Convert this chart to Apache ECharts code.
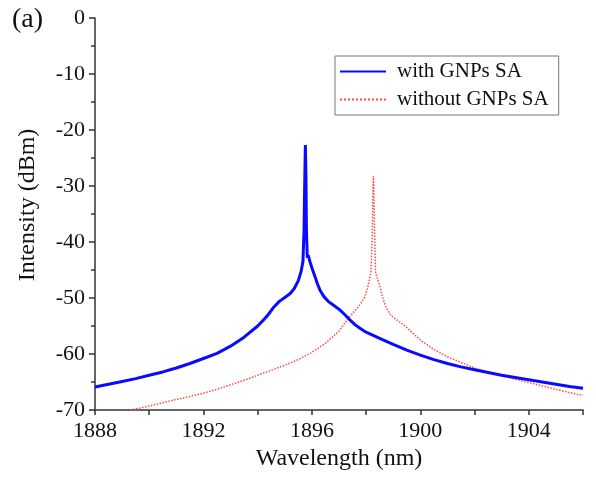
<!DOCTYPE html>
<html>
<head>
<meta charset="utf-8">
<script src="https://cdn.jsdelivr.net/npm/echarts@6/dist/echarts.min.js"></script>
<style>html,body{margin:0;padding:0;background:#fff}#c{width:596px;height:478px}</style>
</head>
<body>
<div id="c"></div>
<script>
const xTickLabels = ['1888','1892','1896','1900','1904'];
const yTickLabels = ['0','-10','-20','-30','-40','-50','-60','-70'];

const withWl = [1888.0,1888.5,1889.0,1889.5,1890.0,1890.5,1891.0,1891.5,1892.0,1892.5,1893.0,1893.5,1894.0,1894.2,1894.4,1894.6,1894.8,1895.0,1895.2,1895.35,1895.5,1895.6,1895.67,1895.71,1895.74,1895.76,1895.78,1895.8,1895.83,1895.87,1895.92,1896.0,1896.1,1896.2,1896.3,1896.45,1896.6,1896.8,1897.0,1897.2,1897.4,1897.6,1897.8,1898.0,1898.5,1899.0,1899.5,1900.0,1900.5,1901.0,1901.5,1902.0,1902.5,1903.0,1903.5,1904.0,1904.5,1905.0,1905.5,1906.0];
const withDbm = [-65.9,-65.4,-64.9,-64.4,-63.8,-63.2,-62.5,-61.7,-60.8,-59.9,-58.6,-57.0,-55.0,-54.0,-52.9,-51.6,-50.6,-49.9,-49.2,-48.3,-46.9,-45.3,-43.5,-38.0,-28.0,-22.7,-28.0,-38.0,-42.8,-42.4,-43.4,-44.6,-46.0,-47.4,-48.6,-49.8,-50.6,-51.3,-52.0,-52.9,-53.9,-54.8,-55.5,-56.1,-57.2,-58.3,-59.3,-60.2,-61.0,-61.7,-62.3,-62.8,-63.3,-63.8,-64.2,-64.6,-65.0,-65.4,-65.8,-66.1];

const withoutWl = [1889.3,1889.5,1890.0,1890.5,1891.0,1891.5,1892.0,1892.5,1893.0,1893.5,1894.0,1894.5,1895.0,1895.5,1896.0,1896.5,1897.0,1897.3,1897.6,1897.8,1897.95,1898.05,1898.12,1898.18,1898.22,1898.25,1898.27,1898.29,1898.32,1898.35,1898.4,1898.5,1898.6,1898.75,1898.9,1899.1,1899.3,1899.5,1899.75,1900.0,1900.5,1901.0,1901.5,1902.0,1902.5,1903.0,1903.5,1904.0,1904.5,1905.0,1905.5,1906.0];
const withoutDbm = [-70.0,-69.8,-69.3,-68.7,-68.1,-67.6,-67.0,-66.3,-65.5,-64.7,-63.8,-62.9,-62.0,-61.0,-59.7,-58.1,-55.9,-53.9,-52.2,-51.0,-49.8,-48.3,-46.8,-45.2,-40.0,-32.0,-28.2,-32.0,-40.0,-45.6,-46.2,-47.8,-49.8,-51.8,-53.0,-53.8,-54.5,-55.3,-56.4,-57.5,-59.2,-60.5,-61.5,-62.5,-63.3,-63.9,-64.5,-65.1,-65.7,-66.3,-66.9,-67.4];

const FONT = '"Liberation Serif","Times New Roman",serif';
const chart = echarts.init(document.getElementById('c'), null, {renderer: 'canvas'});
const pair = (a, b) => a.map((v, i) => [v, b[i]]);

chart.setOption({
  animation: false,
  backgroundColor: '#fff',
  grid: {left: 95, right: 13, top: 18, bottom: 68},
  legend: {
    orient: 'vertical', left: 335, top: 56, width: 222,
    padding: [5, 10, 5, 4], itemGap: 7,
    itemWidth: 46, itemHeight: 14,
    borderColor: '#777', borderWidth: 1,
    itemStyle: {opacity: 0},
    textStyle: {fontFamily: FONT, fontSize: 21, color: '#111', padding: [0, 0, 0, 6]},
    data: ['with GNPs SA', 'without GNPs SA']
  },
  xAxis: {
    type: 'value', min: 1888, max: 1906, interval: 2,
    name: 'Wavelength (nm)', nameLocation: 'middle', nameGap: 35,
    nameTextStyle: {fontFamily: FONT, fontSize: 24, color: '#111'},
    axisLine: {onZero: false, lineStyle: {color: '#333', width: 1.5}},
    axisTick: {show: true, length: 5, lineStyle: {color: '#333', width: 1.5}},
    splitLine: {show: false},
    axisLabel: {
      fontFamily: FONT, fontSize: 22, color: '#111', margin: 10,
      formatter: v => xTickLabels.includes(String(v)) ? String(v) : ''
    }
  },
  yAxis: {
    type: 'value', min: -70, max: 0, interval: 10,
    axisLine: {show: true, onZero: false, lineStyle: {color: '#333', width: 1.5}},
    axisTick: {show: true, length: 6, lineStyle: {color: '#333', width: 1.5}},
    minorTick: {show: true, splitNumber: 2, length: 4, lineStyle: {color: '#333', width: 1.5}},
    splitLine: {show: false},
    axisLabel: {
      fontFamily: FONT, fontSize: 22, color: '#111', margin: 10,
      formatter: v => yTickLabels.includes(String(v)) ? String(v) : ''
    }
  },
  graphic: [
    {type: 'text', left: 12, top: 6, style: {text: '(a)', font: '28px ' + FONT, fill: '#111'}},
    {type: 'text', x: 28, y: 205, rotation: Math.PI / 2,
     style: {text: 'Intensity (dBm)', font: '24px ' + FONT, fill: '#111', align: 'center', verticalAlign: 'middle'}}
  ],
  series: [
    {
      name: 'with GNPs SA', type: 'line', showSymbol: false, symbol: 'none',
      data: pair(withWl, withDbm), z: 3,
      lineStyle: {color: '#0a0aff', width: 3}, itemStyle: {color: '#0a0aff'}
    },
    {
      name: 'without GNPs SA', type: 'line', showSymbol: false, symbol: 'none',
      data: pair(withoutWl, withoutDbm), z: 2,
      lineStyle: {color: '#ff4a4a', width: 1.5, type: 'dotted'}, itemStyle: {color: '#ff4a4a'}
    }
  ]
});
</script>
</body>
</html>
